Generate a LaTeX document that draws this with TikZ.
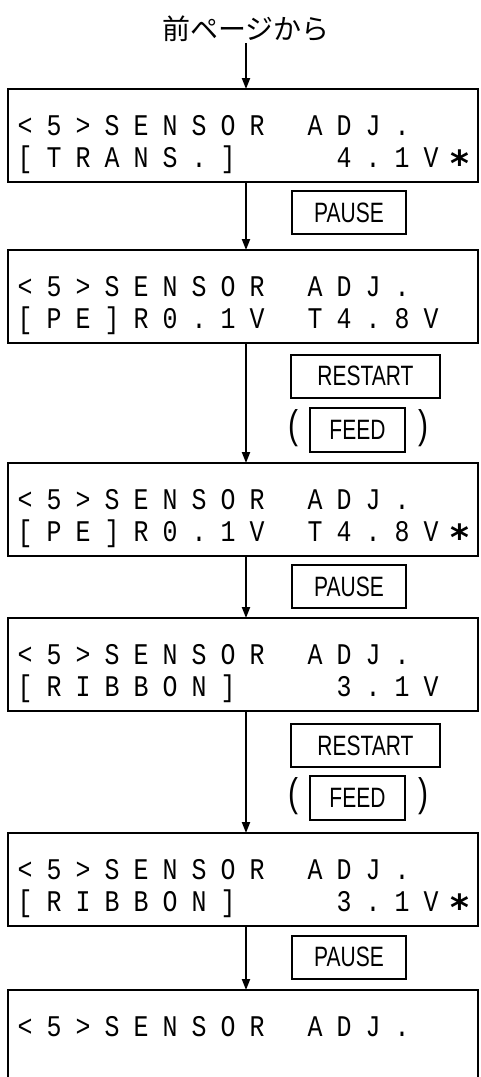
\documentclass[tikz,border=0pt]{standalone}
\usepackage{fontspec}
\setmainfont{Liberation Sans}
\newfontfamily\jpfont{Noto Sans CJK JP}
\newfontfamily\lcdfont[FakeStretch=0.83]{Liberation Mono}
\newfontfamily\keyfont[FakeStretch=0.75]{Liberation Sans}
\newfontfamily\astfont{DejaVu Sans}
\usetikzlibrary{arrows.meta,positioning}

% one LCD character per 29pt cell
\makeatletter
\newcommand\lcd[1]{\@tfor\lcdch:=#1\do{\makebox[29pt]{\lcdch}}}
\makeatother
\newcommand\lcdast{\raisebox{-9pt}{\astfont\bfseries\fontsize{36}{36}\selectfont *}}

\begin{document}
\begin{tikzpicture}[x=1pt,y=-1pt,
  disp/.style={
    draw, line width=2.4pt, anchor=north west,
    minimum width=470pt, minimum height=93pt,
    inner sep=0pt, outer sep=0pt
  },
  lcdrow/.style={anchor=base west, inner sep=0pt, font=\lcdfont\fontsize{30}{30}\selectfont},
  btn/.style={
    draw, line width=2pt, minimum height=43pt,
    inner sep=0pt, font=\keyfont\fontsize{28}{28}\selectfont
  },
  paren/.style={inner sep=0pt, font=\keyfont\fontsize{40}{40}\selectfont},
  arr/.style={-{Triangle[length=11pt,width=8pt]}, line width=2pt},
]
\clip (0,0) rectangle (480,1077);

\node[font=\jpfont\fontsize{28}{28}\selectfont, inner sep=1pt] (ttl) at (246,29) {前ページから};

% displays
\node[disp] (d1) at (8,89) {};
\node[lcdrow] (d1a) at (10.5,135) {\lcd{<5>SENSOR~ADJ.}};
\node[lcdrow] (d1b) at (10.5,167) {\lcd{[TRANS.]~~~4.1V\lcdast}};

\node[disp] (d2) at (8,250) {};
\node[lcdrow] (d2a) at (10.5,296) {\lcd{<5>SENSOR~ADJ.}};
\node[lcdrow] (d2b) at (10.5,328) {\lcd{[PE]R0.1V~T4.8V}};

\node[disp] (d3) at (8,463) {};
\node[lcdrow] (d3a) at (10.5,509) {\lcd{<5>SENSOR~ADJ.}};
\node[lcdrow] (d3b) at (10.5,541) {\lcd{[PE]R0.1V~T4.8V\lcdast}};

\node[disp] (d4) at (8,618) {};
\node[lcdrow] (d4a) at (10.5,664) {\lcd{<5>SENSOR~ADJ.}};
\node[lcdrow] (d4b) at (10.5,696) {\lcd{[RIBBON]~~~3.1V}};

\node[disp] (d5) at (8,833) {};
\node[lcdrow] (d5a) at (10.5,879) {\lcd{<5>SENSOR~ADJ.}};
\node[lcdrow] (d5b) at (10.5,911) {\lcd{[RIBBON]~~~3.1V\lcdast}};

\node[disp, minimum height=130pt] (d6) at (8,990) {};
\node[lcdrow] (d6a) at (10.5,1036) {\lcd{<5>SENSOR~ADJ.}};

% keys
\node[btn, minimum width=114pt] (p1) at (349,212.5) {PAUSE};
\node[btn, minimum width=149pt] (r1) at (365.5,376) {RESTART};
\node[btn, minimum width=95pt, minimum height=44pt] (f1) at (357.5,430) {FEED};
\node[paren] (f1l) at (293,428) {(};
\node[paren] (f1r) at (423,428) {)};

\node[btn, minimum width=114pt] (p2) at (349,586.5) {PAUSE};
\node[btn, minimum width=149pt] (r2) at (365.5,745.5) {RESTART};
\node[btn, minimum width=95pt, minimum height=44pt] (f2) at (357.5,798) {FEED};
\node[paren] (f2l) at (293,796) {(};
\node[paren] (f2r) at (423,796) {)};

\node[btn, minimum width=114pt] (p3) at (349,957) {PAUSE};

% flow
\draw[arr] (ttl.south) -- (d1.north -| ttl);
\draw[arr] (d1.south -| ttl) -- (d2.north -| ttl);
\draw[arr] (d2.south -| ttl) -- (d3.north -| ttl);
\draw[arr] (d3.south -| ttl) -- (d4.north -| ttl);
\draw[arr] (d4.south -| ttl) -- (d5.north -| ttl);
\draw[arr] (d5.south -| ttl) -- (d6.north -| ttl);

\end{tikzpicture}
\end{document}
